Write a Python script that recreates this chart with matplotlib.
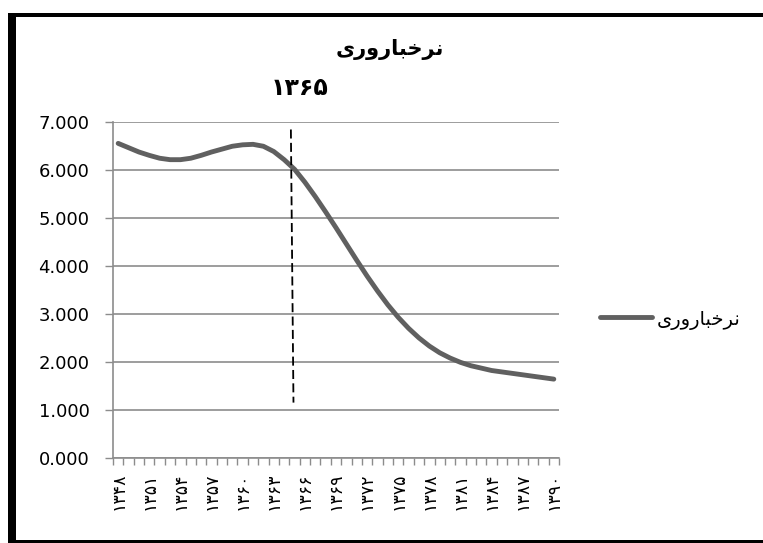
import matplotlib
matplotlib.use("Agg")
import matplotlib.pyplot as plt
from matplotlib.lines import Line2D
from matplotlib.patches import Rectangle
import numpy as np

plt.rcParams['font.family'] = ['DejaVu Sans']

# ---- data ----
years = list(range(1348, 1391))
fertility = [6.56, 6.47, 6.38, 6.31, 6.25, 6.22, 6.22, 6.25, 6.31, 6.38,
             6.44, 6.50, 6.53, 6.54, 6.50, 6.39, 6.22, 6.02, 5.75, 5.45,
             5.13, 4.80, 4.46, 4.12, 3.79, 3.48, 3.19, 2.93, 2.70, 2.50,
             2.33, 2.19, 2.08, 1.99, 1.92, 1.87, 1.82, 1.79, 1.76, 1.73,
             1.70, 1.67, 1.64]
label_years = years[::3]
marker_year = 1365
marker_span = (1.15, 6.85)
y_ticks = [0, 1, 2, 3, 4, 5, 6, 7]

# visual (pre-shaped, left-to-right) forms of "نرخباروری"
series_name = "\uFEEF\uFEAD\uFEED\uFEAD\uFE8E\uFE92\uFEA7\uFEAE\uFEE7"
fa_digits = str.maketrans("0123456789", "۰۱۲۳۴۵۶۷۸۹")
def fa(n):
    return str(n).translate(fa_digits)

W, H = 763, 543
fig = plt.figure(figsize=(W / 100, H / 100), dpi=100)
fig.patch.set_facecolor('white')

L, R, T, B = 113, 559, 122.3, 457.7
ax = fig.add_axes([L / W, 1 - B / H, (R - L) / W, (B - T) / H])

x = np.arange(len(years))
line_color = '#606060'
ax.plot(x, fertility, color=line_color, lw=3.5, solid_capstyle='round',
        solid_joinstyle='round', zorder=3)

# dashed marker line at 1365
mi = years.index(marker_year) - 0.35
ax.plot([mi, mi + 0.25], [marker_span[1], marker_span[0]], color='black',
        lw=1.3, linestyle=(0, (5, 2.4)), zorder=4)

ax.set_xlim(-0.5, len(years) - 0.5)
ax.set_ylim(0, 7)
ax.set_yticks(y_ticks)
ax.set_yticklabels([f"{v:.3f}" for v in y_ticks], fontsize=13)
ax.yaxis.grid(True, color='#8c8c8c', lw=1.2)
ax.set_axisbelow(True)
ax.tick_params(axis='y', length=6, width=1.0, color='#8c8c8c', pad=11)

lab_idx = [years.index(y) for y in label_years]
ax.set_xticks(lab_idx)
ax.set_xticklabels([fa(y) for y in label_years], rotation=90, fontsize=12.5)
ax.set_xticks(np.arange(-0.5, len(years)), minor=True)
ax.tick_params(axis='x', which='major', length=0, pad=11)
ax.tick_params(axis='x', which='minor', length=5, width=1.0, color='#8c8c8c')

for s in ['top', 'right']:
    ax.spines[s].set_visible(False)
for s in ['left', 'bottom']:
    ax.spines[s].set_color('#8c8c8c')
    ax.spines[s].set_linewidth(1.2)

# titles
fig.text(390 / W, 1 - 50 / H, series_name, ha='center', va='center',
         fontsize=15, fontweight='bold')
fig.text(300 / W, 1 - 88 / H, fa(marker_year), ha='center', va='center',
         fontsize=17, fontweight='bold')

# legend
fig.add_artist(Line2D([600 / W, 652 / W], [1 - 317 / H, 1 - 317 / H],
                      transform=fig.transFigure, color=line_color, lw=3.5,
                      solid_capstyle='round'))
fig.text(657 / W, 1 - 320 / H, series_name, ha='left', va='center', fontsize=14)

# frame border
fig.add_artist(Rectangle((8 / W, 0), 8 / W, (H - 13) / H, transform=fig.transFigure,
                         color='black', lw=0))
fig.add_artist(Rectangle((8 / W, 1 - 17 / H), (W - 8) / W, 4 / H, transform=fig.transFigure,
                         color='black', lw=0))
fig.add_artist(Rectangle((8 / W, 0), (W - 8) / W, 3 / H, transform=fig.transFigure,
                         color='black', lw=0))

fig.savefig('out.png', dpi=100, facecolor='white')
